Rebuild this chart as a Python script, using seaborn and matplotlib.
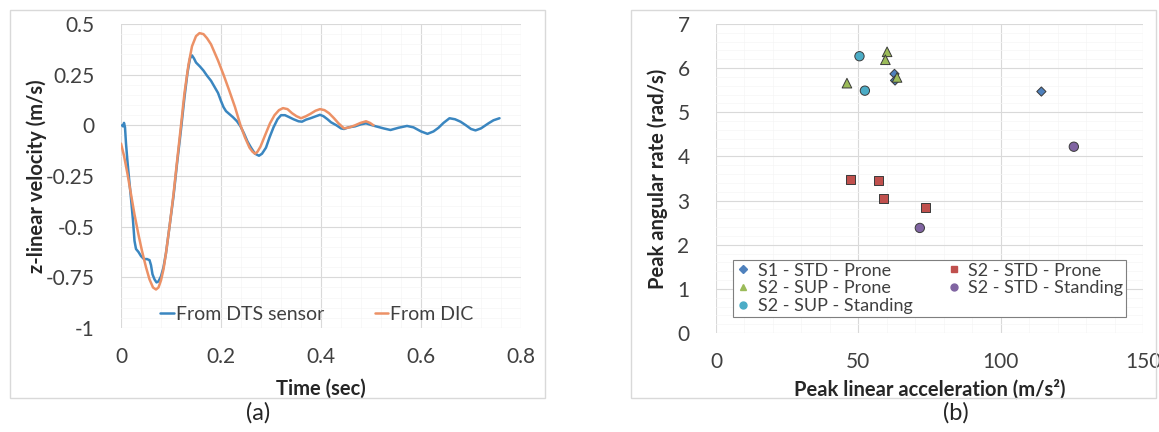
import numpy as np
import pandas as pd
import matplotlib
matplotlib.use("Agg")
import matplotlib.pyplot as plt
import seaborn as sns
from matplotlib.lines import Line2D
from matplotlib.patches import Rectangle
from matplotlib.ticker import MultipleLocator, FuncFormatter

# (a) z-linear velocity traces
dts_time = [0.002, 0.004, 0.006, 0.008, 0.01, 0.013, 0.016, 0.02, 0.024, 0.027, 0.03,
            0.035, 0.04, 0.046, 0.052, 0.057, 0.06, 0.063, 0.067, 0.071, 0.075, 0.08,
            0.085, 0.09, 0.097, 0.105, 0.112, 0.12, 0.127, 0.133, 0.138, 0.142, 0.146,
            0.15, 0.158, 0.165, 0.172, 0.18, 0.187, 0.194, 0.2, 0.205, 0.21, 0.217,
            0.224, 0.232, 0.239, 0.246, 0.253, 0.26, 0.268, 0.276, 0.282, 0.29, 0.297,
            0.305, 0.313, 0.32, 0.328, 0.335, 0.345, 0.355, 0.362, 0.37, 0.379, 0.39,
            0.398, 0.405, 0.413, 0.42, 0.431, 0.44, 0.446, 0.455, 0.468, 0.48, 0.49,
            0.5, 0.51, 0.525, 0.539, 0.555, 0.572, 0.585, 0.6, 0.613, 0.625, 0.635,
            0.645, 0.657, 0.668, 0.679, 0.69, 0.7, 0.709, 0.72, 0.735, 0.745, 0.757]
dts_vel = [0.0, -0.005, 0.012, -0.01, -0.09, -0.18, -0.26, -0.36, -0.47, -0.57, -0.61,
           -0.625, -0.645, -0.66, -0.66, -0.665, -0.69, -0.735, -0.76, -0.775, -0.77, -0.745,
           -0.7, -0.63, -0.5, -0.35, -0.19, -0.02, 0.14, 0.26, 0.33, 0.345, 0.33,
           0.31, 0.29, 0.27, 0.245, 0.22, 0.19, 0.16, 0.12, 0.09, 0.07, 0.055,
           0.04, 0.02, -0.005, -0.04, -0.08, -0.11, -0.14, -0.15, -0.14, -0.11, -0.06,
           -0.01, 0.03, 0.05, 0.05, 0.042, 0.03, 0.02, 0.018, 0.028, 0.035, 0.045,
           0.052, 0.045, 0.03, 0.015, 0.0, -0.015, -0.018, -0.01, -0.005, 0.005, 0.01,
           0.002, -0.005, -0.015, -0.023, -0.012, -0.003, -0.01, -0.03, -0.042, -0.03, -0.012,
           0.012, 0.035, 0.03, 0.018, 0.0, -0.018, -0.025, -0.015, 0.01, 0.025, 0.035]

dic_time = [0.0, 0.006, 0.013, 0.02, 0.027, 0.035, 0.042, 0.05, 0.057, 0.064, 0.07, 0.075,
            0.08, 0.085, 0.09, 0.097, 0.105, 0.112, 0.12, 0.127, 0.135, 0.142, 0.15, 0.157,
            0.165, 0.172, 0.18, 0.187, 0.194, 0.205, 0.216, 0.228, 0.239, 0.248, 0.257,
            0.263, 0.268, 0.273, 0.279, 0.288, 0.298, 0.307, 0.316, 0.324, 0.333, 0.342,
            0.351, 0.36, 0.37, 0.379, 0.389, 0.398, 0.407, 0.416, 0.426, 0.435, 0.446,
            0.457, 0.468, 0.479, 0.49, 0.498, 0.505]
dic_vel = [-0.09, -0.15, -0.24, -0.34, -0.44, -0.54, -0.62, -0.7, -0.76, -0.8, -0.81, -0.8,
           -0.765, -0.71, -0.63, -0.5, -0.34, -0.18, 0.0, 0.16, 0.3, 0.39, 0.44, 0.455,
           0.45, 0.43, 0.4, 0.36, 0.32, 0.25, 0.175, 0.09, 0.0, -0.06, -0.11,
           -0.13, -0.14, -0.13, -0.105, -0.05, 0.01, 0.05, 0.075, 0.085, 0.08, 0.06,
           0.045, 0.035, 0.045, 0.057, 0.072, 0.08, 0.075, 0.06, 0.035, 0.01, -0.015,
           -0.01, 0.0, 0.012, 0.02, 0.012, 0.0]

# (b) peak values per group
groups = ["S1 - STD - Prone", "S2 - STD - Prone", "S2 - SUP - Prone",
          "S2 - STD - Standing", "S2 - SUP - Standing"]
s1_std_prone_acc = [62.7, 62.9, 114.3]
s1_std_prone_rate = [5.87, 5.72, 5.47]
s2_std_prone_acc = [47.3, 57.1, 58.9, 73.6]
s2_std_prone_rate = [3.48, 3.46, 3.04, 2.84]
s2_sup_prone_acc = [60.1, 59.5, 46.0, 63.6]
s2_sup_prone_rate = [6.37, 6.19, 5.66, 5.79]
s2_std_stand_acc = [125.7, 71.6]
s2_std_stand_rate = [4.22, 2.38]
s2_sup_stand_acc = [50.4, 52.3]
s2_sup_stand_rate = [6.27, 5.49]

colors = {"S1 - STD - Prone": "#4F81BD", "S2 - STD - Prone": "#C0504D",
          "S2 - SUP - Prone": "#9BBB59", "S2 - STD - Standing": "#8064A2",
          "S2 - SUP - Standing": "#4BACC6"}
markers = {"S1 - STD - Prone": "D", "S2 - STD - Prone": "s", "S2 - SUP - Prone": "^",
           "S2 - STD - Standing": "o", "S2 - SUP - Standing": "o"}
msizes = {"S1 - STD - Prone": 22, "S2 - STD - Prone": 42, "S2 - SUP - Prone": 48,
          "S2 - STD - Standing": 45, "S2 - SUP - Standing": 45}

sns.set_theme(style="white")
plt.rcParams["font.family"] = ["Lato", "DejaVu Sans"]
plt.rcParams["axes.unicode_minus"] = False

fig = plt.figure(figsize=(11.59, 4.32), dpi=100)

# outer frames of both panels
fig.patches.append(Rectangle((10 / 1159, 1 - 398 / 432), 535 / 1159, 388 / 432,
                             transform=fig.transFigure, fill=False, ec="#D9D9D9", lw=1))
fig.patches.append(Rectangle((631 / 1159, 1 - 398 / 432), 525 / 1159, 388 / 432,
                             transform=fig.transFigure, fill=False, ec="#D9D9D9", lw=1))

ax1 = fig.add_axes([121 / 1159, 1 - 328 / 432, 400 / 1159, 304 / 432])
ax2 = fig.add_axes([716 / 1159, 1 - 333 / 432, 427 / 1159, 309 / 432])

TICK_FS = 15
LABEL_FS = 14.5


def style_axis(ax):
    ax.grid(True, which="major", color="#D9D9D9", lw=0.8)
    ax.grid(True, which="minor", color="#F5F5F5", lw=0.5)
    ax.set_axisbelow(True)
    for sp in ax.spines.values():
        sp.set_visible(False)
    ax.tick_params(axis="both", which="major", labelsize=TICK_FS, colors="#D9D9D9",
                   labelcolor="#404040", length=5, width=0.8)
    ax.tick_params(axis="y", which="major", pad=14)
    ax.tick_params(axis="x", which="major", pad=9)
    ax.tick_params(which="minor", length=0)


# Panel (a)
df_dts = pd.DataFrame({"t": dts_time, "v": dts_vel})
df_dic = pd.DataFrame({"t": dic_time, "v": dic_vel})
sns.lineplot(data=df_dts, x="t", y="v", ax=ax1, color="#3A86C0", lw=1.8, label="From DTS sensor")
sns.lineplot(data=df_dic, x="t", y="v", ax=ax1, color="#EC9166", lw=1.8, label="From DIC")
ax1.set_xlim(0, 0.8)
ax1.set_ylim(-1, 0.5)
ax1.xaxis.set_major_locator(MultipleLocator(0.2))
ax1.xaxis.set_minor_locator(MultipleLocator(0.04))
ax1.yaxis.set_major_locator(MultipleLocator(0.25))
ax1.yaxis.set_minor_locator(MultipleLocator(0.05))
ax1.yaxis.set_major_formatter(FuncFormatter(lambda v, p: f"{v:g}"))
ax1.xaxis.set_major_formatter(FuncFormatter(lambda v, p: f"{v:g}"))
style_axis(ax1)
ax1.set_xlabel("Time (sec)", fontsize=LABEL_FS, fontweight="bold", color="#262626", labelpad=8)
ax1.set_ylabel("z-linear velocity (m/s)", fontsize=LABEL_FS, fontweight="bold", color="#262626")
ax1.yaxis.set_label_coords(-0.185, 0.5)
ax1.legend(loc="center", bbox_to_anchor=(0.49, 0.045), ncol=2, frameon=False,
           fontsize=14, handlelength=0.7, handletextpad=0.1, columnspacing=2.6,
           labelcolor="#404040")

# Panel (b)
acc_lists = [s1_std_prone_acc, s2_std_prone_acc, s2_sup_prone_acc, s2_std_stand_acc, s2_sup_stand_acc]
rate_lists = [s1_std_prone_rate, s2_std_prone_rate, s2_sup_prone_rate, s2_std_stand_rate, s2_sup_stand_rate]
rows = []
for g, accs, rates in zip(groups, acc_lists, rate_lists):
    for a, r in zip(accs, rates):
        rows.append({"group": g, "acc": a, "rate": r})
df_pts = pd.DataFrame(rows)

sns.scatterplot(data=df_pts, x="acc", y="rate", hue="group", style="group", size="group",
                palette=colors, markers=markers, sizes=msizes, edgecolor="#3A3A3A",
                linewidth=0.7, ax=ax2, legend=False, zorder=3)
ax2.set_xlim(0, 150)
ax2.set_ylim(0, 7)
ax2.xaxis.set_major_locator(MultipleLocator(50))
ax2.xaxis.set_minor_locator(MultipleLocator(10))
ax2.yaxis.set_major_locator(MultipleLocator(1))
ax2.yaxis.set_minor_locator(MultipleLocator(0.2))
style_axis(ax2)
ax2.set_xlabel("Peak linear acceleration (m/s²)", fontsize=LABEL_FS, fontweight="bold", color="#262626", labelpad=5)
ax2.set_ylabel("Peak angular rate (rad/s)", fontsize=LABEL_FS, fontweight="bold", color="#262626")
ax2.yaxis.set_label_coords(-0.113, 0.5)

legend_order = ["S1 - STD - Prone", "S2 - SUP - Prone", "S2 - SUP - Standing",
                "S2 - STD - Prone", "S2 - STD - Standing"]
handles = [Line2D([], [], ls="", marker=markers[g], color=colors[g],
                  markersize=4 if markers[g] == "D" else 5) for g in legend_order]
leg = ax2.legend(handles, legend_order, loc="lower left", ncol=2, mode="expand",
                 bbox_to_anchor=(0.019, 0.023, 0.962, 0.194), fontsize=13,
                 frameon=True, fancybox=False, edgecolor="#7F7F7F", framealpha=1,
                 handlelength=0.8, handletextpad=0.4, borderpad=0.15, labelspacing=0.1,
                 labelcolor="#404040")
leg.get_frame().set_linewidth(0.8)

fig.text(258 / 1159, 1 - 413 / 432, "(a)", ha="center", va="center", fontsize=17, color="#262626")
fig.text(956 / 1159, 1 - 413 / 432, "(b)", ha="center", va="center", fontsize=17, color="#262626")

fig.savefig("out.png", dpi=100)
